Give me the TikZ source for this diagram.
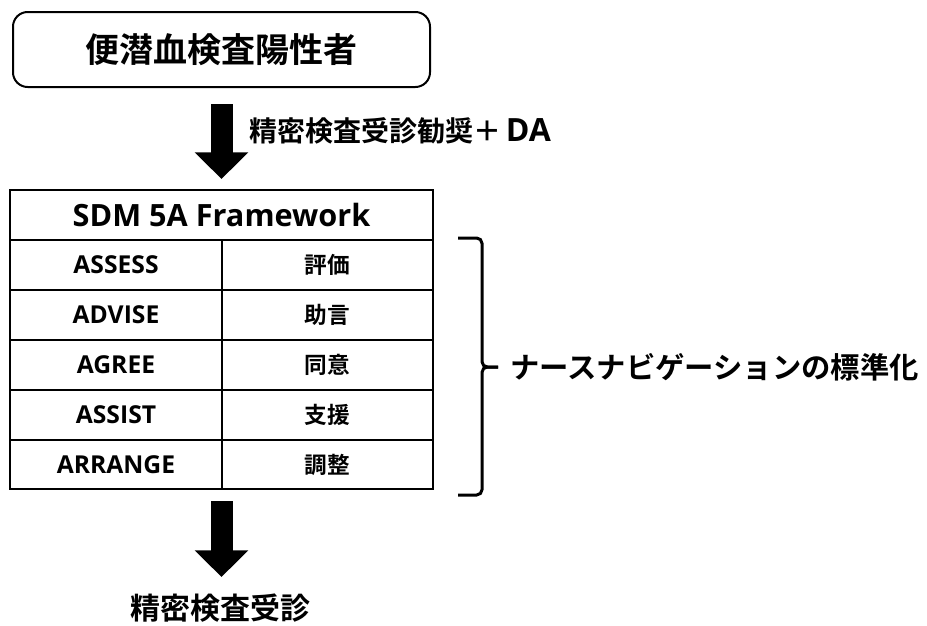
\documentclass[tikz,border=0pt]{standalone}
\usepackage{fontspec}
\setmainfont{Noto Sans CJK JP}
\newfontfamily\jp{Noto Sans CJK JP}[BoldFont={Noto Sans CJK JP Bold}]
\newfontfamily\lat{Open Sans}
\usetikzlibrary{arrows.meta}
\newcommand\setfs[1]{\fontsize{#1}{#1}\selectfont}
\tikzset{
  topbox/.style={draw, line width=1.5pt, rounded corners=11pt, minimum width=312.75pt, minimum height=56.25pt, inner sep=0pt},
  cell/.style={draw, line width=1.5pt, minimum height=37.5pt, inner sep=0pt},
  lcell/.style={cell, minimum width=159pt, font=\lat\bfseries\setfs{18.5pt}},
  rcell/.style={cell, minimum width=158.25pt, font=\jp\bfseries\setfs{17pt}},
  bigarrow/.style={line width=16.5pt, -{Triangle[width=39pt,length=20pt]}},
  bracestyle/.style={line width=2.25pt, rounded corners=4pt},
  lbl/.style={inner sep=0pt, font=\jp\bfseries\setfs{22pt}}
}
\begin{document}
\begin{tikzpicture}[x=0.75pt,y=-0.75pt]
\useasboundingbox (0,0) rectangle (927,625);
% top box
\node[topbox, font=\jp\bfseries\setfs{25.5pt}] (top) at (221.5,49.5) {便潜血検査陽性者};
% table
\node[draw, line width=1.5pt, minimum width=317.25pt, minimum height=224.25pt, inner sep=0pt] (frame) at (221.5,339.5) {};
\node[cell, minimum width=317.25pt, minimum height=37.5pt, font=\lat\bfseries\setfs{23pt}] (head) at (221.5,215) {SDM 5A Framework};
\node[lcell] (l1) at (116,265) {ASSESS};
\node[rcell] (r1) at (327.5,265) {評価};
\node[lcell] (l2) at (116,315) {ADVISE};
\node[rcell] (r2) at (327.5,315) {助言};
\node[lcell] (l3) at (116,365) {AGREE};
\node[rcell] (r3) at (327.5,365) {同意};
\node[lcell] (l4) at (116,415) {ASSIST};
\node[rcell] (r4) at (327.5,415) {支援};
\node[lcell, minimum height=36.75pt] (l5) at (116,464.5) {ARRANGE};
\node[rcell, minimum height=36.75pt] (r5) at (327.5,464.5) {調整};
% arrows
\draw[bigarrow, shorten <=12pt, shorten >=7.5pt] (top.south) -- (frame.north);
\node[lbl, anchor=west, font=\jp\bfseries\setfs{21pt}] (advice) at (249,131) {精密検査受診勧奨＋\,{\lat\setfs{24pt}DA}};
\coordinate (a2end) at (221.5,577);
\draw[bigarrow, shorten <=8.25pt] (frame.south) -- (a2end);
\node[lbl, font=\jp\bfseries\setfs{22.5pt}] (final) at (220,608) {精密検査受診};
% brace
\coordinate (btop) at (458,238);
\coordinate (btip) at (498,367);
\coordinate (bbot) at (458,495);
\draw[bracestyle] (btop) -- (482,238) -- (482,367) -- (btip);
\draw[bracestyle] (btip) -- (482,367) -- (482,495) -- (bbot);
\node[lbl, anchor=west] (nn) at ([xshift=9pt]btip) {ナースナビゲーションの標準化};
\end{tikzpicture}
\end{document}
